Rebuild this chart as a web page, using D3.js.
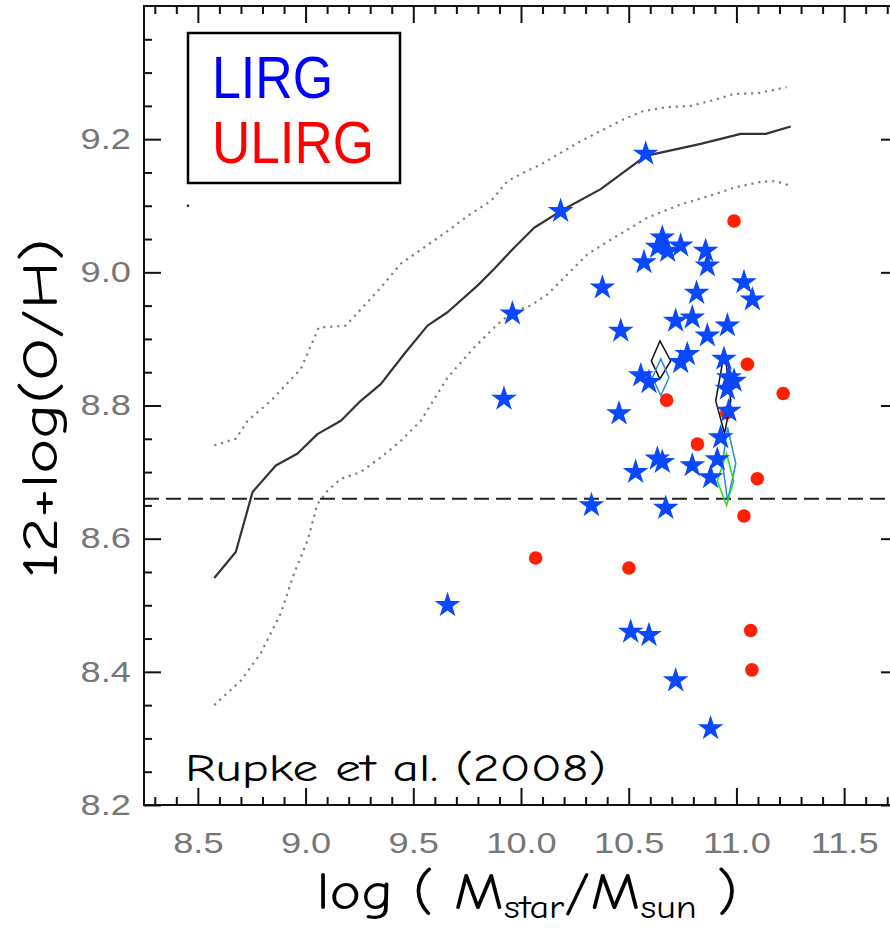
<!DOCTYPE html>
<html><head><meta charset="utf-8">
<script src="https://cdn.jsdelivr.net/npm/d3@7"></script>
<style>html,body{margin:0;padding:0;background:#fff;} svg{display:block;}</style>
</head><body>
<svg id="chart" width="890" height="930"></svg>
<script>
// ---------------- DATA ----------------
const xTickValues = [8.5, 9.0, 9.5, 10.0, 10.5, 11.0, 11.5];
const xTickLabels = ["8.5", "9.0", "9.5", "10.0", "10.5", "11.0", "11.5"];
const yTickValues = [8.2, 8.4, 8.6, 8.8, 9.0, 9.2];
const yTickLabels = ["8.2", "8.4", "8.6", "8.8", "9.0", "9.2"];

const legendLabels = ["LIRG", "ULIRG"];

// LIRGs (blue stars)
const lirgMass = [10.579, 10.184, 9.960, 9.921, 9.659, 10.378, 10.656, 10.634, 10.681, 10.741,
  10.571, 10.857, 10.865, 11.035, 11.074, 10.815, 10.718, 10.795, 10.958, 10.463,
  10.865, 10.772, 10.741, 10.942, 10.556, 10.594, 10.965, 10.989, 10.958, 10.965,
  10.455, 10.927, 10.633, 10.656, 10.532, 10.795, 10.911, 10.880, 10.327, 10.672,
  10.509, 10.594, 10.718, 10.880];
const lirgOH = [9.178, 9.092, 8.938, 8.810, 8.500, 8.977, 9.052, 9.038, 9.032, 9.040,
  9.015, 9.032, 9.010, 8.985, 8.959, 8.969, 8.927, 8.932, 8.920, 8.912,
  8.905, 8.877, 8.865, 8.870, 8.845, 8.835, 8.842, 8.837, 8.825, 8.792,
  8.788, 8.752, 8.720, 8.715, 8.700, 8.710, 8.719, 8.692, 8.650, 8.646,
  8.460, 8.455, 8.387, 8.315];

// ULIRGs (red circles)
const ulirgMass = [10.989, 11.051, 11.217, 10.676, 10.819, 11.097, 11.035, 11.066, 11.072, 10.068, 10.501, 10.955];
const ulirgOH   = [9.077, 8.862, 8.818, 8.808, 8.742, 8.690, 8.634, 8.462, 8.403, 8.571, 8.556, 8.789];

// Mass–metallicity relation: median and +/- bounds
const medianMass = [8.576, 8.676, 8.754, 8.862, 8.963, 9.055, 9.164, 9.256, 9.349, 9.457, 9.566, 9.659,
  9.798, 9.875, 9.968, 10.061, 10.184, 10.370, 10.579, 10.834, 11.020, 11.136, 11.252];
const medianOH = [8.541, 8.580, 8.670, 8.710, 8.728, 8.757, 8.777, 8.807, 8.832, 8.877, 8.920, 8.940,
  8.980, 9.005, 9.037, 9.067, 9.092, 9.125, 9.175, 9.193, 9.208, 9.208, 9.219];

const upperMass = [8.576, 8.676, 8.731, 8.839, 8.978, 9.061, 9.187, 9.349, 9.442, 9.549, 9.659, 9.767,
  9.860, 9.937, 10.014, 10.092, 10.277, 10.477, 10.565, 10.676, 10.788, 10.899, 10.988, 11.099, 11.233];
const upperOH = [8.740, 8.750, 8.777, 8.807, 8.855, 8.917, 8.920, 8.977, 9.013, 9.037, 9.062, 9.088,
  9.107, 9.137, 9.150, 9.162, 9.197, 9.230, 9.242, 9.248, 9.250, 9.259, 9.268, 9.269, 9.278];

const lowerMass = [8.576, 8.700, 8.792, 8.885, 8.947, 9.009, 9.055, 9.102, 9.164, 9.256, 9.349, 9.442,
  9.535, 9.659, 9.782, 9.891, 9.968, 10.045, 10.123, 10.216, 10.308, 10.432, 10.587, 10.741,
  10.896, 10.987, 11.113, 11.182, 11.252];
const lowerOH = [8.350, 8.387, 8.428, 8.488, 8.548, 8.597, 8.652, 8.672, 8.690, 8.700, 8.722, 8.747,
  8.777, 8.842, 8.887, 8.922, 8.942, 8.950, 8.967, 8.997, 9.027, 9.052, 9.082, 9.102,
  9.117, 9.127, 9.136, 9.137, 9.130];

// Solar oxygen abundance
const solarOH = 8.66;

// Diamond-shaped ranges (model groups)
const diamondModel  = ["A", "B", "A", "B", "C"];
const diamondMass   = [10.645, 10.649, 10.945, 10.959, 10.954];
const diamondLeft   = [10.605, 10.610, 10.904, 10.935, 10.911];
const diamondRight  = [10.695, 10.687, 10.974, 10.997, 10.987];
const diamondTop    = [8.897, 8.870, 8.882, 8.767, 8.728];
const diamondMid    = [8.867, 8.842, 8.807, 8.713, 8.687];
const diamondBottom = [8.840, 8.815, 8.758, 8.657, 8.650];

// stray point
const strayMass = [8.454];
const strayOH = [9.10];

// ---------------- DRAWING ----------------
const svg = d3.select("#chart");
svg.append("rect").attr("width", 890).attr("height", 930).attr("fill", "#fff");

const X0 = 144, X1 = 898, Y0 = 805, Y1 = 6;
const x = d3.scaleLinear().domain([8.25, 11.75]).range([X0, X1]);
const y = d3.scaleLinear().domain([8.2, 9.4]).range([Y0, Y1]);

const line = d3.line().x(d => x(d[0])).y(d => y(d[1]));

// dotted bounds
[[upperMass, upperOH], [lowerMass, lowerOH]].forEach(([m, o]) => {
  svg.append("path").datum(d3.zip(m, o)).attr("d", line)
    .attr("fill", "none").attr("stroke", "#808080").attr("stroke-width", 2.2)
    .attr("stroke-dasharray", "2.2,4.8");
});
// median
svg.append("path").datum(d3.zip(medianMass, medianOH)).attr("d", line)
  .attr("fill", "none").attr("stroke", "#333").attr("stroke-width", 2.2)
  .attr("stroke-linejoin", "round");

// solar line
svg.append("line")
  .attr("x1", x(8.25)).attr("x2", x(11.75))
  .attr("y1", y(solarOH)).attr("y2", y(solarOH))
  .attr("stroke", "#222").attr("stroke-width", 2).attr("stroke-dasharray", "15,7");

// stray dot
svg.selectAll(".stray").data(d3.zip(strayMass, strayOH)).join("circle")
  .attr("cx", d => x(d[0])).attr("cy", d => y(d[1])).attr("r", 1.3).attr("fill", "#222");

// ULIRG circles
svg.selectAll(".ulirg").data(d3.zip(ulirgMass, ulirgOH)).join("circle")
  .attr("class", "ulirg")
  .attr("cx", d => x(d[0])).attr("cy", d => y(d[1])).attr("r", 6.8)
  .attr("fill", "#ff2000");

// diamonds
const diamondColor = { A: "#111", B: "#2a86e0", C: "#22dd22" };
diamondModel.forEach((m, i) => {
  const pts = [
    [x(diamondMass[i]), y(diamondTop[i])],
    [x(diamondRight[i]), y(diamondMid[i])],
    [x(diamondMass[i]), y(diamondBottom[i])],
    [x(diamondLeft[i]), y(diamondMid[i])]
  ];
  svg.append("polygon").attr("points", pts.map(p => p.join(",")).join(" "))
    .attr("fill", "none").attr("stroke", diamondColor[m]).attr("stroke-width", 1.5);
});

// LIRG stars
const star = d3.symbol().type(d3.symbolStar).size(205);
svg.selectAll(".lirg").data(d3.zip(lirgMass, lirgOH)).join("path")
  .attr("class", "lirg")
  .attr("transform", d => `translate(${x(d[0])},${y(d[1])})`)
  .attr("d", star).attr("fill", "#0a48ff");

// ---------------- AXES ----------------
const minorX = d3.range(83, 118).filter(v => v % 5 !== 0).map(v => v / 10);
const minorY = d3.range(1, 24).filter(i => i % 4 !== 0).map(i => 8.2 + i * 0.05);

function clean(g) {
  g.select(".domain").remove();
  g.selectAll("line").attr("stroke", "#111").attr("stroke-width", 2);
}
const tickFont = "Liberation Sans, Arial, Helvetica, sans-serif";

// bottom
svg.append("g").attr("transform", `translate(0,${Y0})`)
  .call(d3.axisBottom(x).tickValues(minorX).tickSize(-8).tickSizeOuter(0).tickFormat(""))
  .call(clean);
svg.append("g").attr("transform", `translate(0,${Y0})`)
  .call(d3.axisBottom(x).tickValues(xTickValues).tickSize(-17).tickSizeOuter(0)
    .tickPadding(27).tickFormat((d, i) => xTickLabels[i]))
  .call(clean)
  .call(g => g.attr("font-family", tickFont).attr("font-size", 29))
  .call(g => g.selectAll("text").attr("fill", "#777").attr("transform", "scale(1.25,1)"));
// top
svg.append("g").attr("transform", `translate(0,${Y1})`)
  .call(d3.axisTop(x).tickValues(minorX).tickSize(-8).tickSizeOuter(0).tickFormat(""))
  .call(clean);
svg.append("g").attr("transform", `translate(0,${Y1})`)
  .call(d3.axisTop(x).tickValues(xTickValues).tickSize(-17).tickSizeOuter(0).tickFormat(""))
  .call(clean);
// left
svg.append("g").attr("transform", `translate(${X0},0)`)
  .call(d3.axisLeft(y).tickValues(minorY).tickSize(-8).tickSizeOuter(0).tickFormat(""))
  .call(clean);
svg.append("g").attr("transform", `translate(${X0},0)`)
  .call(d3.axisLeft(y).tickValues(yTickValues).tickSize(-17).tickSizeOuter(0)
    .tickPadding(10.4).tickFormat((d, i) => yTickLabels[i]))
  .call(clean)
  .call(g => g.attr("font-family", tickFont).attr("font-size", 29))
  .call(g => g.selectAll("text").attr("fill", "#777").attr("transform", "scale(1.25,1)"));
// right
svg.append("g").attr("transform", `translate(${X1},0)`)
  .call(d3.axisRight(y).tickValues(minorY).tickSize(-8).tickSizeOuter(0).tickFormat(""))
  .call(clean);
svg.append("g").attr("transform", `translate(${X1},0)`)
  .call(d3.axisRight(y).tickValues(yTickValues).tickSize(-17).tickSizeOuter(0).tickFormat(""))
  .call(clean);

// frame
svg.append("rect").attr("x", X0).attr("y", Y1).attr("width", X1 - X0).attr("height", Y0 - Y1)
  .attr("fill", "none").attr("stroke", "#111").attr("stroke-width", 2);

// ---------------- LEGEND ----------------
svg.append("rect").attr("x", 188).attr("y", 33).attr("width", 212).attr("height", 150)
  .attr("fill", "#fff").attr("stroke", "#000").attr("stroke-width", 2.5);
const legendColors = ["#0000ff", "#ff0000"];
const legendLen = [121, 162];
legendLabels.forEach((t, i) => {
  svg.append("text").attr("x", 212).attr("y", 98 + i * 65)
    .attr("font-family", tickFont).attr("font-size", 60)
    .attr("textLength", legendLen[i]).attr("lengthAdjust", "spacingAndGlyphs")
    .attr("fill", legendColors[i]).text(t);
});

// ---------------- TITLES ----------------
const titleFont = "'Comic Sans MS', 'Comic Neue', 'DejaVu Sans', sans-serif";
svg.append("text")
  .attr("transform", `translate(57,${(Y0 + Y1) / 2 + 3}) rotate(-90)`)
  .attr("text-anchor", "middle").attr("font-family", titleFont).attr("font-size", 50)
  .attr("textLength", 340).attr("lengthAdjust", "spacingAndGlyphs")
  .attr("fill", "#000").text("12+log(O/H)");

const xt = svg.append("text").attr("x", 527).attr("y", 909).attr("text-anchor", "middle")
  .attr("font-family", titleFont).attr("font-size", 52).attr("fill", "#000")
  .attr("textLength", 421).attr("lengthAdjust", "spacingAndGlyphs");
xt.append("tspan").text("log ( M");
xt.append("tspan").attr("font-size", 33).attr("dy", 9).text("star");
xt.append("tspan").attr("dy", -9).text("/M");
xt.append("tspan").attr("font-size", 33).attr("dy", 9).text("sun");
xt.append("tspan").attr("dy", -9).text(" )");

svg.append("text").attr("x", 185).attr("y", 781)
  .attr("font-family", titleFont).attr("font-size", 38)
  .attr("textLength", 421).attr("lengthAdjust", "spacingAndGlyphs")
  .attr("fill", "#000").text("Rupke et al. (2008)");
</script>
</body></html>
